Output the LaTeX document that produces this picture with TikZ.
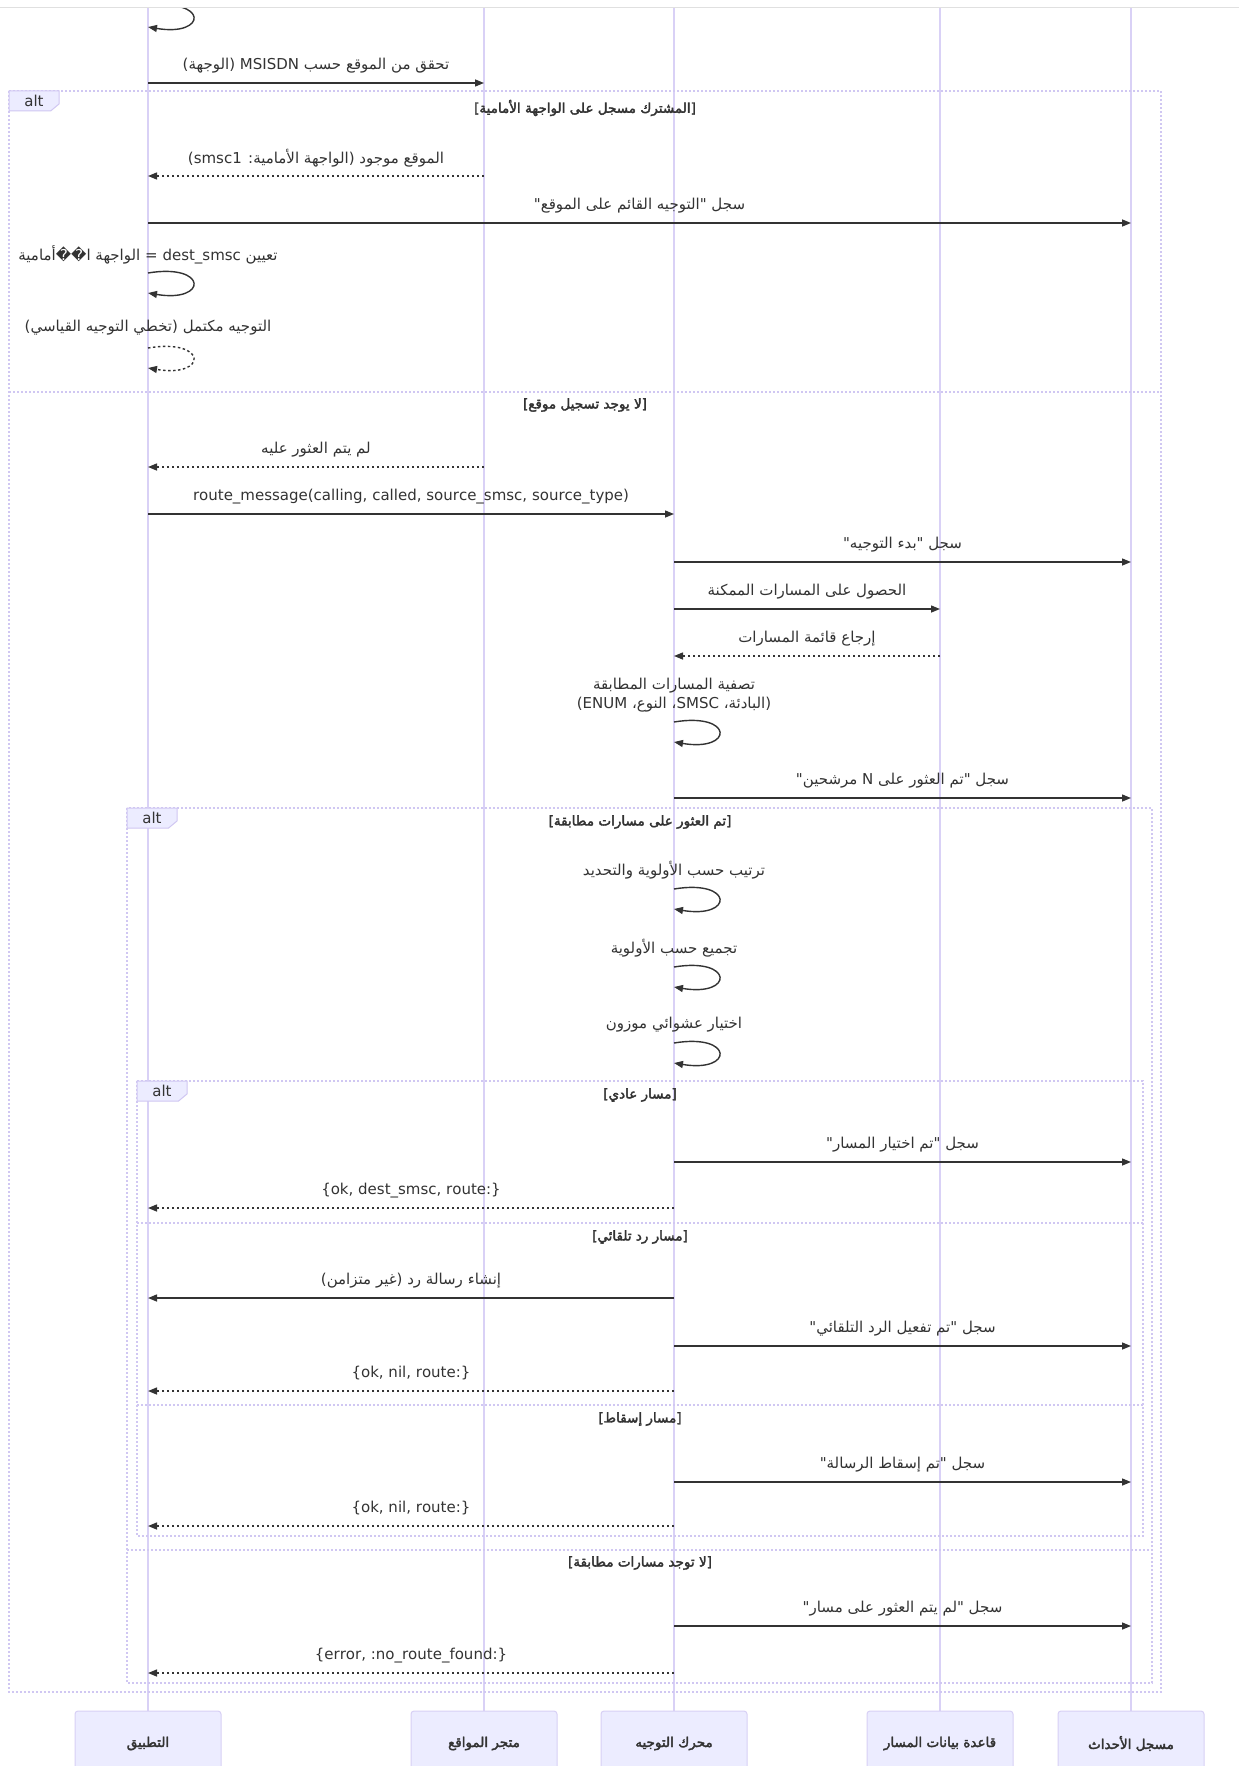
\documentclass[tikz,border=0pt]{standalone}
\usepackage{fontspec}
\setmainfont{DejaVu Sans}
\newfontfamily\ar[Script=Arabic]{DejaVu Sans}
\newfontfamily\arb[Script=Arabic,FakeBold=2.6]{DejaVu Sans}
\TeXXeTstate=1
\usetikzlibrary{arrows.meta}
\definecolor{ink}{HTML}{333333}
\definecolor{life}{HTML}{D9D1F6}
\definecolor{frm}{HTML}{D0C7F2}
\definecolor{boxfill}{HTML}{ECECFF}
\definecolor{boxline}{HTML}{D8D0F5}
\newcommand\Msg[6]{%
  \coordinate (#1s) at (#2,#4);
  \coordinate (#1e) at (#3,#4);
  \draw[#5] (#1s) -- (#1e);
  \node[msgtxt] (#1t) at ({(#2+#3)/2},{#4-17.5}) {#6};
}
\newcommand\Self[6]{% name, x, y0, style, text y, text
  \coordinate (#1s) at (#2,#3);
  \coordinate (#1e) at (#2,{#3+20});
  \draw[#4] (#1s) .. controls +(60,-10) and +(60,10) .. (#1e);
  \node[msgtxt,align=center] (#1t) at (#2,#5) {#6};
}
\newcommand\AltTab[3]{% name, x, y
  \draw[fill=boxfill,draw=frm,line width=1pt] (#2,#3) -- ++(50,0) -- ++(0,13) -- ++(-8.4,7) -- ++(-41.6,0) -- cycle;
  \node[alttxt] (#1) at ({#2+25},{#3+10}) {alt};
}
\begin{document}
\begin{tikzpicture}[x=1pt,y=-1pt,
  msg/.style={draw=ink,line width=1.4pt,-{Triangle[length=9pt,width=7pt]}},
  ret/.style={msg,dash pattern=on 2.5pt off 2.5pt},
  lifeline/.style={draw=life,line width=1.2pt},
  frame/.style={draw=frm,line width=1.5pt,dash pattern=on 2pt off 2pt},
  msgtxt/.style={font=\ar\fontsize{15}{19}\selectfont,text=ink,inner sep=0pt},
  condtxt/.style={font=\arb\fontsize{13.5}{17}\selectfont,text=ink,inner sep=0pt},
  alttxt/.style={font=\fontsize{15}{18}\selectfont,text=ink,inner sep=0pt},
  actor/.style={draw=boxline,fill=boxfill,line width=1pt,rounded corners=3pt,minimum width=146pt,minimum height=65pt,inner sep=0pt,font=\arb\fontsize{13.5}{17}\selectfont,text=ink}]
\useasboundingbox (0,0) rectangle (1239,1766);
\fill[white] (0,0) rectangle (1239,1766);
% lifelines
\foreach \n/\x in {A/148,L/484,R/674,D/940,E/1131}{
  \coordinate (\n top) at (\x,8);
  \coordinate (\n bot) at (\x,1711);
  \draw[lifeline] (\n top) -- (\n bot);
}
% frames
\draw[frame] (9,91) rectangle (1161,1692);
\draw[frame] (9,392) -- (1161,392);
\draw[frame] (127,808) rectangle (1152,1683);
\draw[frame] (127,1550) -- (1152,1550);
\draw[frame] (137,1081) rectangle (1143,1536);
\draw[frame] (137,1223) -- (1143,1223);
\draw[frame] (137,1405) -- (1143,1405);
\AltTab{alt1}{9}{91}
\AltTab{alt2}{127}{808}
\AltTab{alt3}{137}{1081}
\node[condtxt] (c1) at (585,108) {\beginR[المشترك مسجل على الواجهة الأمامية]\endR};
\node[condtxt] (c2) at (585,405) {\beginR[لا يوجد تسجيل موقع]\endR};
\node[condtxt] (c3) at (640,822) {\beginR[تم العثور على مسارات مطابقة]\endR};
\node[condtxt] (c4) at (640,1095) {\beginR[مسار عادي]\endR};
\node[condtxt] (c5) at (640,1237) {\beginR[مسار رد تلقائي]\endR};
\node[condtxt] (c6) at (640,1419) {\beginR[مسار إسقاط]\endR};
\node[condtxt] (c7) at (640,1563) {\beginR[لا توجد مسارات مطابقة]\endR};
% messages
\Self{m0}{148}{7}{msg}{-20}{}
\Msg{m1}{148}{484}{83}{msg}{\beginR تحقق من الموقع حسب \beginL MSISDN\endL{} (الوجهة)\endR}
\Msg{m2}{484}{148}{176}{ret}{\beginR الموقع موجود (الواجهة الأمامية: \beginL smsc1\endL)\endR}
\Msg{m3}{148}{1131}{223}{msg}{\beginR سجل "التوجيه القائم على الموقع"\endR}
\Self{m4}{148}{273}{msg}{255}{\beginR تعيين \beginL dest\_smsc\endL{} = الواجهة ا^^^^fffd^^^^fffdأمامية\endR}
\Self{m5}{148}{348}{ret}{328}{\beginR التوجيه مكتمل (تخطي التوجيه القياسي)\endR}
\Msg{m6}{484}{148}{467}{ret}{\beginR لم يتم العثور عليه\endR}
\Msg{m7}{148}{674}{514}{msg}{route\_message(calling, called, source\_smsc, source\_type)}
\Msg{m8}{674}{1131}{562}{msg}{\beginR سجل "بدء التوجيه"\endR}
\Msg{m9}{674}{940}{609}{msg}{\beginR الحصول على المسارات الممكنة\endR}
\Msg{m10}{940}{674}{656}{ret}{\beginR إرجاع قائمة المسارات\endR}
\Self{m11}{674}{722}{msg}{695.5}{\beginR تصفية المسارات المطابقة\endR\\\beginR (البادئة، \beginL SMSC\endL، النوع، \beginL ENUM\endL)\endR}
\Msg{m12}{674}{1131}{798}{msg}{\beginR سجل "تم العثور على \beginL N\endL{} مرشحين"\endR}
\Self{m13}{674}{889}{msg}{870}{\beginR ترتيب حسب الأولوية والتحديد\endR}
\Self{m14}{674}{967}{msg}{948}{\beginR تجميع حسب الأولوية\endR}
\Self{m15}{674}{1043}{msg}{1025}{\beginR اختيار عشوائي موزون\endR}
\Msg{m16}{674}{1131}{1162}{msg}{\beginR سجل "تم اختيار المسار"\endR}
\Msg{m17}{674}{148}{1208}{ret}{\{ok, dest\_smsc, route:\}}
\Msg{m18}{674}{148}{1298}{msg}{\beginR إنشاء رسالة رد (غير متزامن)\endR}
\Msg{m19}{674}{1131}{1346}{msg}{\beginR سجل "تم تفعيل الرد التلقائي"\endR}
\Msg{m20}{674}{148}{1391}{ret}{\{ok, nil, route:\}}
\Msg{m21}{674}{1131}{1482}{msg}{\beginR سجل "تم إسقاط الرسالة"\endR}
\Msg{m22}{674}{148}{1526}{ret}{\{ok, nil, route:\}}
\Msg{m23}{674}{1131}{1626}{msg}{\beginR سجل "لم يتم العثور على مسار"\endR}
\Msg{m24}{674}{148}{1673}{ret}{\{error, :no\_route\_found:\}}
% header strip
\fill[white] (0,0) rectangle (1239,7);
\draw[black!12,line width=1.5pt] (0,7.5) -- (1239,7.5);
% actors
\node[actor] (App) at (148,1743.5) {\beginR التطبيق\endR};
\node[actor] (Loc) at (484,1743.5) {\beginR متجر المواقع\endR};
\node[actor] (Eng) at (674,1743.5) {\beginR محرك التوجيه\endR};
\node[actor] (RDB) at (940,1743.5) {\beginR قاعدة بيانات المسار\endR};
\node[actor] (Log) at (1131,1743.5) {\beginR مسجل الأحداث\endR};
\end{tikzpicture}
\end{document}
